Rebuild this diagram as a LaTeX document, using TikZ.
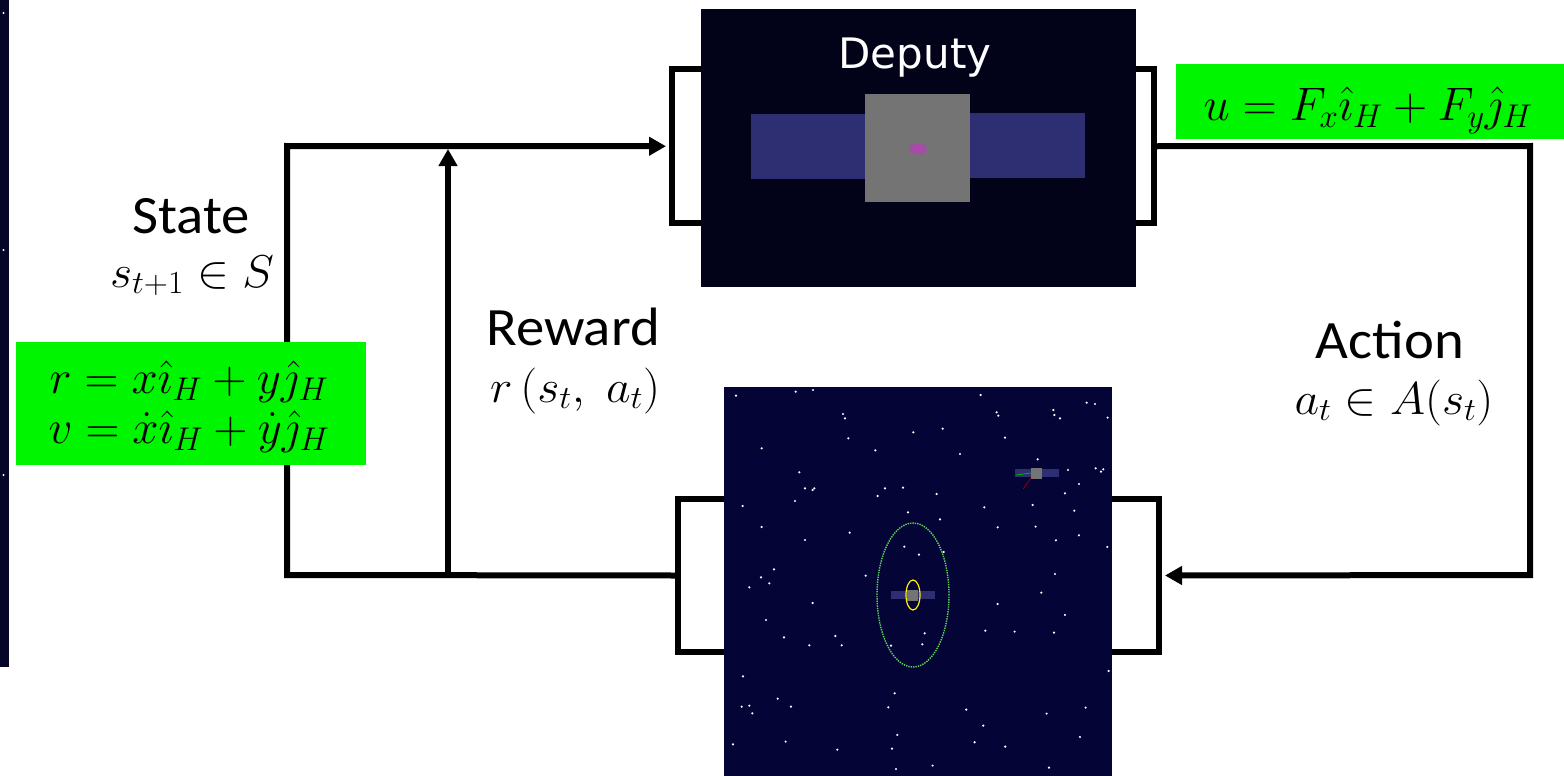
\RequirePackage{fix-cm}
\documentclass[tikz,border=0pt]{standalone}
\usepackage{fontspec}
\newfontfamily\labelfont{Carlito}
\newfontfamily\spritefont{DejaVu Sans}
\usetikzlibrary{arrows.meta}

\definecolor{deputybg}{RGB}{2,2,24}
\definecolor{spacebg}{RGB}{4,4,54}
\definecolor{panelblue}{RGB}{46,46,114}
\definecolor{bodygray}{RGB}{116,116,116}
\definecolor{thruster}{RGB}{166,76,166}
\definecolor{highlight}{RGB}{0,245,0}
\definecolor{orbitgreen}{RGB}{90,210,90}
\definecolor{sideband}{RGB}{6,6,40}

\tikzset{
  wire/.style={line width=6pt, line join=miter},
  feed/.style={wire, -{Triangle[length=17pt,width=18pt]}, shorten >=3pt},
  port/.style={draw, line width=6pt, fill=white, inner sep=0pt, rectangle},
  screen/.style={rectangle, inner sep=0pt, draw=none},
  greenbox/.style={rectangle, fill=highlight, inner sep=0pt},
  word/.style={font=\labelfont\fontsize{54}{64}\selectfont, xscale=1.05, transform shape, anchor=base, inner sep=0pt},
  symb/.style={font=\fontsize{46}{55}\selectfont, xscale=1.04, transform shape, anchor=base, inner sep=0pt},
  eqn/.style={font=\fontsize{47}{55}\selectfont, xscale=1.0, transform shape, anchor=base, inner sep=0pt},
  star/.style={fill=white}
}

\begin{document}
\begin{tikzpicture}[x=1pt,y=-1pt]
\useasboundingbox (0,0) rectangle (1564,776);
\fill[white] (0,0) rectangle (1564,776);

% dark band on the left edge
\fill[sideband] (0,0) rectangle (9,667);
\foreach \sy in {13,250,475} \fill[white] (3.5,\sy) circle[radius=1.2pt];

% junction points of the feedback loop
\coordinate (bl) at (287,575);
\coordinate (tl) at (287,146);
\coordinate (rj) at (448,575);
\coordinate (tr) at (1530,146);
\coordinate (br) at (1530,575);

% ports (brackets) behind the two blocks
\node[port, minimum width=70pt, minimum height=153.5pt] (depL) at (707,146.25) {};
\node[port, minimum width=70pt, minimum height=153.5pt] (depR) at (1119,146.25) {};
\node[port, minimum width=70pt, minimum height=153pt] (envL) at (713,575.5) {};
\node[port, minimum width=70pt, minimum height=153pt] (envR) at (1124,575.5) {};

% loop wiring
\draw[feed] (envL.west) -- (bl) -- (tl) -- (depL.west);
\draw[feed] (rj) -- (rj |- tl);
\draw[feed] (depR.east) -- (tr) -- (br) -- (envR.east);

% deputy block
\node[screen, fill=deputybg, minimum width=435pt, minimum height=278pt] (deputy) at (918.5,148) {};
\fill[panelblue] (751,114) rectangle (865,179);
\fill[panelblue] (970,113) rectangle (1085,178);
\fill[bodygray] (865,94) rectangle (970,202);
\fill[thruster] (918,149) ellipse[x radius=9pt, y radius=5.5pt];
\node[font=\spritefont\fontsize{42}{50}\selectfont, text=white, anchor=base, inner sep=0pt] (deptitle) at (915,69) {Deputy};

% environment block
\node[screen, fill=spacebg, minimum width=388pt, minimum height=392pt] (env) at (918,583) {};
\begin{scope}[shift={(660,380)}, x=0.3333pt, y=-0.3333pt]
\foreach \px/\py in {228/47,407/35,459/30,549/102,555/115,565/175,305/205,760/157,848/146,962/45,
  1010/97,1015/107,1180/90,1183/105,1200/115,1280/68,1305/72,1343/113,1035/173,646/211,900/222,
  1133/238,418/277,1224/270,1307/265,1323/275,1330/268,1257/312,1215/340,435/325,458/330,463/325,
  675/325,729/323,653/348,830/342,405/363,248/378,1118/375,973/382,1243/392,744/397,840/418,
  305/441,569/458,435/480,1013/442,1127/440,1257/466,1188/481,1342/501,733/500,777/524,851/516,
  342/568,303/592,328/610,268/622,617/587,1185/582,1144/638,458/669,1013/672,1215/705,318/720,
  372/772,526/768,448/796,545/796,976/752,1064/755,1182/758,794/760,787/793,693/797,1346/873,
  249/889,704/940,353/956,245/980,268/977,277/1000,393/980,685/982,919/989,1277/983,1160/1001,
  970/1037,1260/1071,219/1093,377/1085,532/1109,696/1106,944/1087,1036/1100,712/1065,708/1167,
  818/1157,1167/1163}
  \fill[star] (\px,\py) circle[radius=1.2pt];
\end{scope}
% relative orbit and chief
\draw[orbitgreen, line width=1.4pt, densely dotted] (913,595) ellipse[x radius=36pt, y radius=72pt];
\fill[panelblue] (891,591) rectangle (935,599);
\fill[bodygray] (907,590) rectangle (918,601);
\draw[yellow, line width=1.2pt] (913,595) ellipse[x radius=7pt, y radius=15pt];
% deputy sprite
\fill[panelblue] (1015,469) rectangle (1059,477);
\fill[bodygray] (1031,468) rectangle (1042,479);
\draw[green!70!black, line width=0.8pt] (1016,475) -- (1031,473);
\draw[red!70!black, line width=0.6pt] (1031,478) -- (1023,489);

% green boxes with the vector definitions
\node[greenbox, minimum width=350pt, minimum height=123pt] (stateeq) at (191,403.5) {};
\node[eqn] (poseq) at (189,393) {$r = x\hat{\imath}_H + y\hat{\jmath}_H$};
\node[eqn] (veleq) at (189,443) {$v = \dot{x}\hat{\imath}_H + \dot{y}\hat{\jmath}_H$};
\node[greenbox, minimum width=388pt, minimum height=75pt] (actioneq) at (1370,101.5) {};
\node[eqn] (forceeq) at (1368,120) {$u = F_x\hat{\imath}_H + F_y\hat{\jmath}_H$};

% loop labels
\node[word] (statelbl) at (191,233) {State};
\node[symb] (statesym) at (192,287) {$s_{t+1} \in S$};
\node[word] (rewardlbl) at (573,345) {Reward};
\node[symb] (rewardsym) at (575,402) {$r\,(s_t,\;a_t)$};
\node[word] (actionlbl) at (1390,358) {Action};
\node[symb] (actionsym) at (1394,414) {$a_t \in A(s_t)$};
\end{tikzpicture}
\end{document}
